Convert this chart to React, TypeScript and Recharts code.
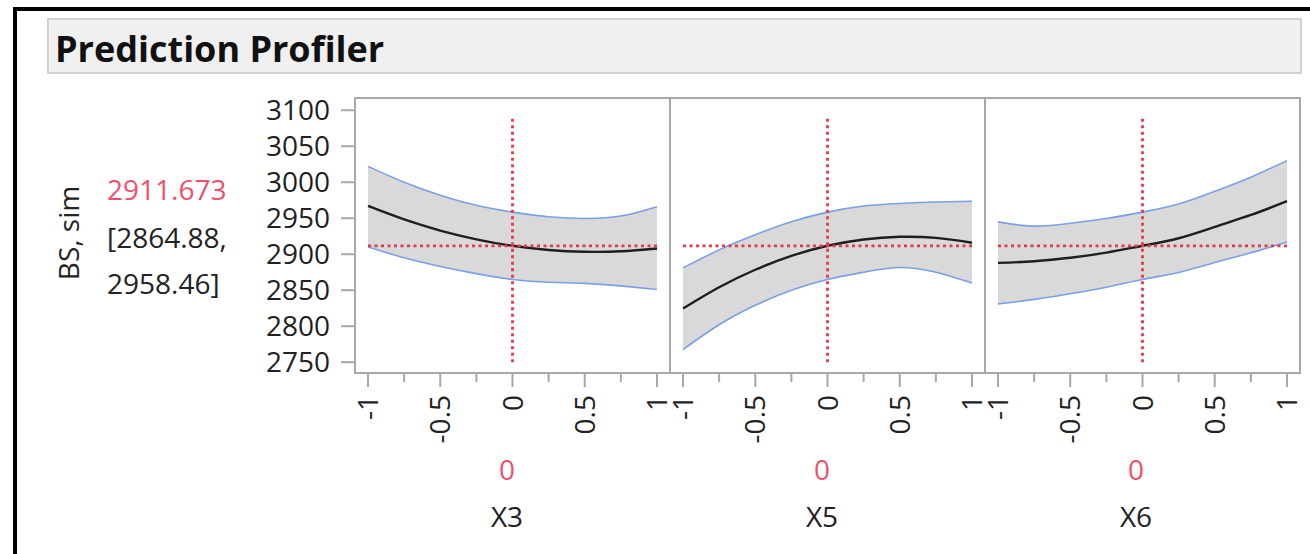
import { ComposedChart, Area, Line, XAxis, YAxis, ReferenceLine } from 'recharts';

// factor settings along each x axis
const xs = [-1, -0.75, -0.5, -0.25, 0, 0.25, 0.5, 0.75, 1];

// X3 profile
const x3Mean = [2967, 2948.3, 2932.9, 2920.7, 2911.7, 2905.9, 2903.4, 2904.1, 2908];
const x3Lower = [2910, 2895, 2883, 2873, 2864.9, 2861, 2859.5, 2856, 2851];
const x3Upper = [3022, 3000, 2982, 2968, 2958.5, 2952, 2949.6, 2953, 2966];

// X5 profile
const x5Mean = [2824.5, 2854.1, 2878.4, 2897.7, 2911.7, 2920.5, 2924.2, 2922.7, 2916];
const x5Lower = [2767.6, 2802, 2829, 2850, 2865, 2875, 2881.5, 2875, 2860];
const x5Upper = [2881, 2906, 2927, 2945, 2958.5, 2967, 2970.5, 2972.5, 2973.6];

// X6 profile
const x6Mean = [2887.9, 2890.3, 2895.1, 2902.2, 2911.7, 2922.2, 2937.9, 2954.5, 2973.6];
const x6Lower = [2831, 2837.3, 2845.1, 2854.2, 2864.9, 2874.7, 2888.4, 2902, 2917];
const x6Upper = [2944.9, 2939, 2943, 2949.6, 2958.5, 2969.7, 2987.4, 3007, 3030];

const factors = ['X3', 'X5', 'X6'];
const settings = [0, 0, 0];
const yTicks = [2750, 2800, 2850, 2900, 2950, 3000, 3050, 3100];
const xTicks = [-1, -0.75, -0.5, -0.25, 0, 0.25, 0.5, 0.75, 1];
const majorTicks = [-1, -0.5, 0, 0.5, 1];

const predicted = 2911.673;
const ciLow = 2864.88;
const ciHigh = 2958.46;
const responseName = 'BS, sim';

const FONT = "'Segoe UI', 'Open Sans', sans-serif";
const RED = '#e8374b';
const RED_TEXT = '#f0506e';
const FRAME = '#a8a8a8';

// plot frame geometry (page pixels)
const PLOT_TOP = 98;
const PLOT_BOTTOM = 373;
const PANEL_X = [355, 670, 985, 1300];
const SIDE = 20; // extra svg room on each side of a panel for tick labels

const build = (mean: number[], lower: number[], upper: number[]) =>
  xs.map((x, i) => ({ x, mean: mean[i], lower: lower[i], upper: upper[i], band: [lower[i], upper[i]] }));

const panels = [
  build(x3Mean, x3Lower, x3Upper),
  build(x5Mean, x5Lower, x5Upper),
  build(x6Mean, x6Lower, x6Upper),
];

function XTick(props: any) {
  const { x, y, payload } = props;
  const major = majorTicks.includes(payload.value);
  return (
    <g>
      <line x1={x} x2={x} y1={y} y2={y + (major ? 14 : 9)} stroke={FRAME} strokeWidth={2} />
      {major && (
        <text
          x={x}
          y={y + 22}
          dy="0.36em"
          textAnchor="end"
          transform={`rotate(-90, ${x}, ${y + 22})`}
          fontSize={28}
          fontFamily={FONT}
          fill="#222"
        >
          {String(payload.value)}
        </text>
      )}
    </g>
  );
}

function Panel({ data, first }: { data: any[]; first: boolean }) {
  const yw = first ? 105 : 0;
  const plotW = 315;
  return (
    <ComposedChart
      width={plotW + yw + (first ? 0 : SIDE) + SIDE}
      height={370}
      data={data}
      margin={{ top: PLOT_TOP - 90, right: SIDE, bottom: 0, left: first ? 0 : SIDE }}
    >
      <XAxis
        dataKey="x"
        type="number"
        domain={[-1.09, 1.09]}
        ticks={xTicks}
        interval={0}
        tick={<XTick />}
        tickLine={false}
        tickSize={0}
        tickMargin={0}
        height={90 + 370 - PLOT_BOTTOM}
        axisLine={false}
        allowDataOverflow
      />
      <YAxis
        type="number"
        domain={[2735, 3117]}
        ticks={yTicks}
        interval={0}
        hide={!first}
        width={yw}
        tickSize={14}
        tickMargin={11}
        tick={{ fontSize: 28, fontFamily: FONT, fill: '#222' }}
        tickLine={{ stroke: FRAME, strokeWidth: 2 }}
        axisLine={false}
        allowDataOverflow
      />
      <Area dataKey="band" type="natural" fill="#d9d9d9" fillOpacity={1} stroke="none" isAnimationActive={false} />
      <Line dataKey="upper" type="natural" stroke="#7b9fe6" strokeWidth={1.6} dot={false} activeDot={false} isAnimationActive={false} />
      <Line dataKey="lower" type="natural" stroke="#7b9fe6" strokeWidth={1.6} dot={false} activeDot={false} isAnimationActive={false} />
      <Line dataKey="mean" type="natural" stroke="#1e1e1e" strokeWidth={2.4} dot={false} activeDot={false} isAnimationActive={false} />
      <ReferenceLine segment={[{ x: -1, y: predicted }, { x: 1, y: predicted }]} stroke={RED} strokeWidth={2.8} strokeDasharray="3 3.5" />
      <ReferenceLine segment={[{ x: 0, y: 2750 }, { x: 0, y: 3090 }]} stroke={RED} strokeWidth={2.8} strokeDasharray="3 3.5" />
    </ComposedChart>
  );
}

const labelCenter = [507, 822, 1136];

export default function App() {
  return (
    <div style={{ position: 'absolute', left: 0, top: 0, width: 1310, height: 554, background: '#fff', overflow: 'hidden' }}>
      <svg width={1310} height={554} style={{ position: 'absolute', left: 0, top: 0 }}>
        <rect x={13} y={7} width={1297} height={4} fill="#000" />
        <rect x={13} y={7} width={4} height={547} fill="#000" />
        <rect x={48} y={19} width={1253} height={54} fill="#f0f0f0" stroke="#d2d2d2" strokeWidth={2} />
        <text x={55} y={62} fontSize={36} fontWeight="bold" fontFamily={FONT} fill="#111">
          Prediction Profiler
        </text>
        <text transform="translate(79, 233) rotate(-90)" textAnchor="middle" fontSize={28} fontFamily={FONT} fill="#222">
          {responseName}
        </text>
        <text x={107} y={200} fontSize={28} fontFamily={FONT} fill={RED_TEXT}>
          {predicted.toFixed(3)}
        </text>
        <text x={107} y={248} fontSize={28} fontFamily={FONT} fill="#222">
          {`[${ciLow},`}
        </text>
        <text x={107} y={294} fontSize={28} fontFamily={FONT} fill="#222">
          {`${ciHigh}]`}
        </text>
        {factors.map((f, i) => (
          <g key={f}>
            <text x={labelCenter[i]} y={480} textAnchor="middle" fontSize={28} fontFamily={FONT} fill={RED_TEXT}>
              {settings[i]}
            </text>
            <text x={labelCenter[i]} y={527} textAnchor="middle" fontSize={28} fontFamily={FONT} fill="#222">
              {f}
            </text>
          </g>
        ))}
        <rect
          x={PANEL_X[0]}
          y={PLOT_TOP}
          width={PANEL_X[3] - PANEL_X[0]}
          height={PLOT_BOTTOM - PLOT_TOP}
          fill="none"
          stroke={FRAME}
          strokeWidth={2}
        />
        <line x1={PANEL_X[1]} x2={PANEL_X[1]} y1={PLOT_TOP} y2={PLOT_BOTTOM} stroke={FRAME} strokeWidth={2} />
        <line x1={PANEL_X[2]} x2={PANEL_X[2]} y1={PLOT_TOP} y2={PLOT_BOTTOM} stroke={FRAME} strokeWidth={2} />
      </svg>
      {panels.map((d, i) => (
        <div key={i} style={{ position: 'absolute', left: i === 0 ? 250 : PANEL_X[i] - SIDE, top: 90 }}>
          <Panel data={d} first={i === 0} />
        </div>
      ))}
    </div>
  );
}
